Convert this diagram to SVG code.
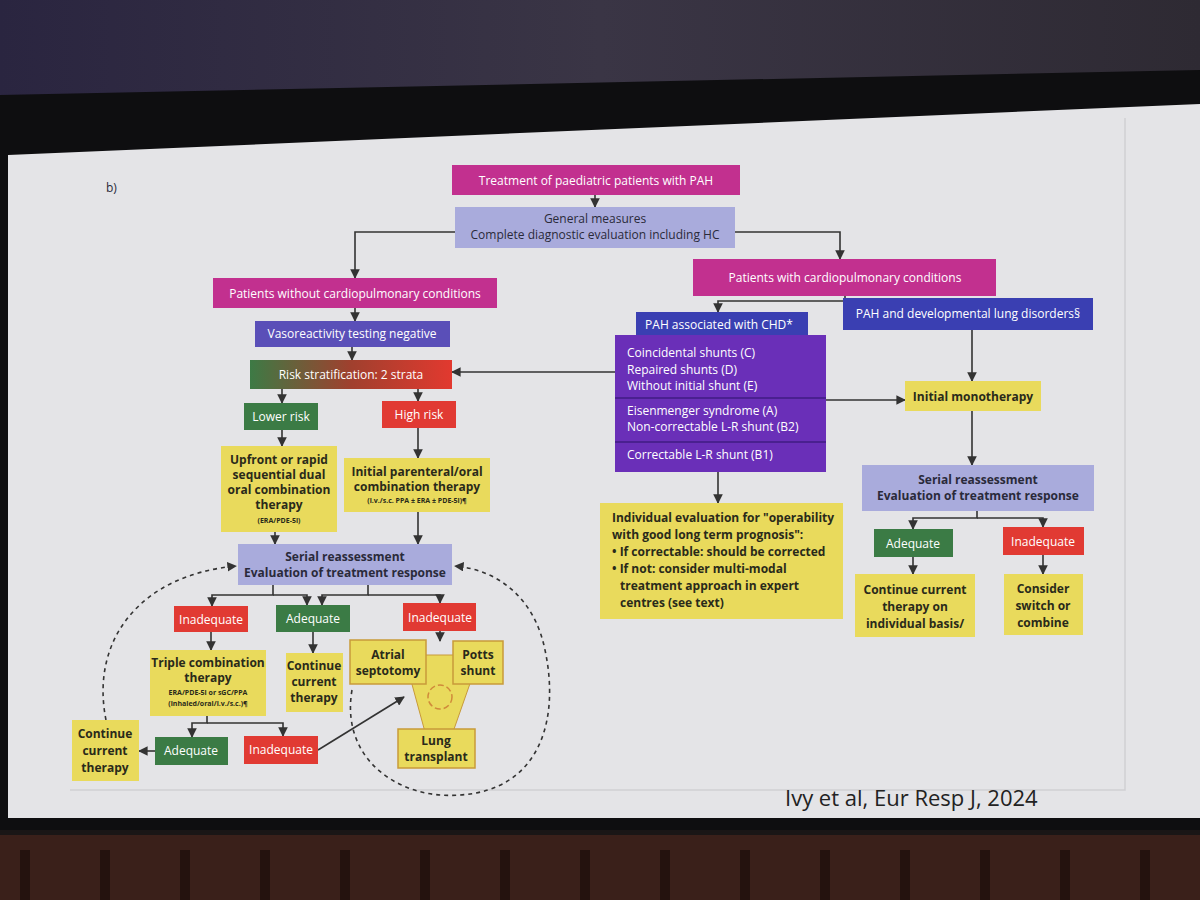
<svg xmlns="http://www.w3.org/2000/svg" width="1200" height="900" viewBox="0 0 1200 900">
<defs>
<linearGradient id="top" x1="0" y1="0" x2="1" y2="0"><stop offset="0" stop-color="#2a2540"/><stop offset="0.5" stop-color="#3a3545"/><stop offset="1" stop-color="#2e2a33"/></linearGradient>
<linearGradient id="risk" x1="0" y1="0" x2="1" y2="0"><stop offset="0" stop-color="#3d7a45"/><stop offset="0.5" stop-color="#a0402e"/><stop offset="1" stop-color="#e2392f"/></linearGradient>
<marker id="ah" viewBox="0 0 10 10" refX="9" refY="5" markerWidth="6" markerHeight="6" orient="auto-start-reverse"><path d="M0,0 L10,5 L0,10 z" fill="#333"/></marker>
</defs>
<style>
.t{font-family:"Open Sans","Liberation Sans",sans-serif;font-size:12px;text-anchor:middle}
.w{fill:#fff}.d{fill:#2a2a3a}.b{font-weight:bold;fill:#2a2a1a}
.mag{fill:#c2308f}.lav{fill:#a9abdc}.grn{fill:#3b7b45}.red{fill:#e13a33}.yel{fill:#e9da5c}.blu{fill:#3a3fb2}.pur{fill:#6a2fb8}
.c path,.c line{stroke:#333;stroke-width:1.6;fill:none}
.dash{stroke:#444;stroke-width:1.6;fill:none;stroke-dasharray:4 4}
</style>
<rect width="1200" height="900" fill="#1a1616"/>
<rect width="1200" height="120" fill="url(#top)"/>
<path d="M0,95 L1200,70 L1200,830 L0,830 z" fill="#0e0e10"/>
<path d="M8,155 L1200,104 L1200,818 L8,818 z" fill="#e4e4e7"/>
<path d="M70,790 L1125,790 L1125,118" fill="none" stroke="#cfcfd3" stroke-width="1.5"/>
<rect x="0" y="835" width="1200" height="65" fill="#3a201a"/>
<g fill="#24120e"><rect x="20" y="850" width="10" height="50"/><rect x="100" y="850" width="10" height="50"/><rect x="180" y="850" width="10" height="50"/><rect x="260" y="850" width="10" height="50"/><rect x="340" y="850" width="10" height="50"/><rect x="420" y="850" width="10" height="50"/><rect x="500" y="850" width="10" height="50"/><rect x="580" y="850" width="10" height="50"/><rect x="660" y="850" width="10" height="50"/><rect x="740" y="850" width="10" height="50"/><rect x="820" y="850" width="10" height="50"/><rect x="900" y="850" width="10" height="50"/><rect x="980" y="850" width="10" height="50"/><rect x="1060" y="850" width="10" height="50"/><rect x="1140" y="850" width="10" height="50"/></g>
<text x="106" y="192" class="t d" style="text-anchor:start">b)</text>
<text x="785" y="806" class="t" style="text-anchor:start;font-size:22px;fill:#222">Ivy et al, Eur Resp J, 2024</text>

<g class="c">
<path d="M595,195 V207" marker-end="url(#ah)"/>
<path d="M455,232 H355 V278" marker-end="url(#ah)"/>
<path d="M735,232 H840 V259" marker-end="url(#ah)"/>
<path d="M845,296 V301 H718 V312" marker-end="url(#ah)"/>
<path d="M845,301 H968 V300" marker-end="url(#ah)"/>
<path d="M355,308 V321" marker-end="url(#ah)"/>
<path d="M352,347 V360" marker-end="url(#ah)"/>
<path d="M282,389 V403" marker-end="url(#ah)"/>
<path d="M418,389 V401" marker-end="url(#ah)"/>
<path d="M615,372 H452" marker-end="url(#ah)"/>
<path d="M826,400 H905" marker-end="url(#ah)"/>
<path d="M972,330 V381" marker-end="url(#ah)"/>
<path d="M972,411 V465" marker-end="url(#ah)"/>
<path d="M977,511 V518 H913 V529" marker-end="url(#ah)"/>
<path d="M977,518 H1043 V527" marker-end="url(#ah)"/>
<path d="M913,557 V574" marker-end="url(#ah)"/>
<path d="M1043,555 V574" marker-end="url(#ah)"/>
<path d="M718,472 V503" marker-end="url(#ah)"/>
<path d="M282,430 V446" marker-end="url(#ah)"/>
<path d="M418,428 V458" marker-end="url(#ah)"/>
<path d="M275,532 V544" marker-end="url(#ah)"/>
<path d="M418,512 V544" marker-end="url(#ah)"/>
<path d="M273,585 V595 H212 V606" marker-end="url(#ah)"/>
<path d="M273,595 H307 V605" marker-end="url(#ah)"/>
<path d="M368,585 V595 H322 V605" marker-end="url(#ah)"/>
<path d="M368,595 H440 V603" marker-end="url(#ah)"/>
<path d="M211,632 V650" marker-end="url(#ah)"/>
<path d="M313,632 V653" marker-end="url(#ah)"/>
<path d="M440,631 V641" marker-end="url(#ah)"/>
<path d="M207,716 V723 H192 V737" marker-end="url(#ah)"/>
<path d="M207,723 H283 V736" marker-end="url(#ah)"/>
<path d="M155,751 H139" marker-end="url(#ah)"/>
<path d="M318,750 L404,697" marker-end="url(#ah)"/>
<path class="dash" d="M106,720 C90,640 140,575 236,566" marker-end="url(#ah)"/>
<path class="dash" d="M352,690 C340,760 400,800 460,795 C540,790 560,720 545,650 C535,600 500,570 455,566" marker-end="url(#ah)"/>
</g>

<g id="title"><rect x="452" y="165" width="288" height="30" class="mag"/><text x="596" y="185" class="t w">Treatment of paediatric patients with PAH</text></g>
<g id="general"><rect x="455" y="207" width="280" height="41" class="lav"/><text x="595" y="223" class="t d">General measures</text><text x="595" y="239" class="t d">Complete diagnostic evaluation including HC</text></g>
<g id="without"><rect x="213" y="278" width="284" height="30" class="mag"/><text x="355" y="298" class="t w">Patients without cardiopulmonary conditions</text></g>
<g id="with"><rect x="693" y="259" width="303" height="37" class="mag"/><text x="845" y="282" class="t w">Patients with cardiopulmonary conditions</text></g>
<g id="vaso"><rect x="255" y="321" width="195" height="26" fill="#5a4fb8"/><text x="352" y="338" class="t w">Vasoreactivity testing negative</text></g>
<g id="risk"><rect x="250" y="360" width="202" height="29" fill="url(#risk)"/><text x="351" y="379" class="t w">Risk stratification: 2 strata</text></g>
<g id="lower"><rect x="244" y="403" width="74" height="27" class="grn"/><text x="281" y="421" class="t w">Lower risk</text></g>
<g id="high"><rect x="382" y="401" width="74" height="27" class="red"/><text x="419" y="419" class="t w">High risk</text></g>
<g id="upfront"><rect x="221" y="446" width="116" height="86" class="yel"/><text class="t b" x="279" y="464">Upfront or rapid</text><text class="t b" x="279" y="479">sequential dual</text><text class="t b" x="279" y="494">oral combination</text><text class="t b" x="279" y="509">therapy</text><text class="t b" x="279" y="523" style="font-size:7px">(ERA/PDE-5i)</text></g>
<g id="parenteral"><rect x="344" y="458" width="146" height="54" class="yel"/><text class="t b" x="417" y="476">Initial parenteral/oral</text><text class="t b" x="417" y="491">combination therapy</text><text class="t b" x="417" y="503" style="font-size:7px">(i.v./s.c. PPA ± ERA ± PDE-5i)¶</text></g>
<g id="serialL"><rect x="238" y="544" width="214" height="41" class="lav"/><text x="345" y="561" class="t d" style="font-weight:bold">Serial reassessment</text><text x="345" y="577" class="t d" style="font-weight:bold">Evaluation of treatment response</text></g>
<g id="inad1"><rect x="174" y="606" width="74" height="26" class="red"/><text x="211" y="624" class="t w">Inadequate</text></g>
<g id="adeq1"><rect x="276" y="605" width="74" height="27" class="grn"/><text x="313" y="623" class="t w">Adequate</text></g>
<g id="inad3"><rect x="403" y="603" width="73" height="28" class="red"/><text x="440" y="622" class="t w">Inadequate</text></g>
<g id="triple"><rect x="150" y="650" width="116" height="66" class="yel"/><text class="t b" x="208" y="667">Triple combination</text><text class="t b" x="208" y="682">therapy</text><text class="t b" x="208" y="695" style="font-size:7px">ERA/PDE-5i or sGC/PPA</text><text class="t b" x="208" y="706" style="font-size:7px">(inhaled/oral/i.v./s.c.)¶</text></g>
<g id="contC"><rect x="286" y="653" width="57" height="59" class="yel"/><text class="t b" x="314" y="670">Continue</text><text class="t b" x="314" y="686">current</text><text class="t b" x="314" y="702">therapy</text></g>
<g id="funnel"><path d="M404,655 H480 L453,732 H425 z" class="yel" stroke="#c89a3a"/><circle cx="440" cy="697" r="12" fill="none" stroke="#d08a3a" stroke-width="1.5" stroke-dasharray="6 3"/></g>
<g id="atrial"><rect x="350" y="640" width="76" height="44" class="yel" stroke="#c89a3a" stroke-width="1.5"/><text class="t b" x="388" y="659">Atrial</text><text class="t b" x="388" y="675">septotomy</text></g>
<g id="potts"><rect x="453" y="641" width="50" height="43" class="yel" stroke="#c89a3a" stroke-width="1.5"/><text class="t b" x="478" y="659">Potts</text><text class="t b" x="478" y="675">shunt</text></g>
<g id="lung"><rect x="398" y="729" width="77" height="39" class="yel" stroke="#c89a3a" stroke-width="1.5"/><text class="t b" x="436" y="745">Lung</text><text class="t b" x="436" y="761">transplant</text></g>
<g id="contL"><rect x="72" y="720" width="67" height="61" class="yel"/><text class="t b" x="105" y="738">Continue</text><text class="t b" x="105" y="755">current</text><text class="t b" x="105" y="772">therapy</text></g>
<g id="adeq2"><rect x="155" y="737" width="73" height="28" class="grn"/><text x="191" y="755" class="t w">Adequate</text></g>
<g id="inad2"><rect x="244" y="736" width="74" height="28" class="red"/><text x="281" y="754" class="t w">Inadequate</text></g>
<g id="chd"><rect x="636" y="312" width="172" height="26" class="blu"/><text x="719" y="329" class="t w">PAH associated with CHD*</text></g>
<g id="shunts"><rect x="615" y="335" width="211" height="137" class="pur"/><line x1="615" y1="398" x2="826" y2="398" stroke="#4a2090" stroke-width="2"/><line x1="615" y1="442" x2="826" y2="442" stroke="#4a2090" stroke-width="2"/>
<g class="t w" style="text-anchor:start"><text x="627" y="357">Coincidental shunts (C)</text><text x="627" y="374">Repaired shunts (D)</text><text x="627" y="390">Without initial shunt (E)</text><text x="627" y="415">Eisenmenger syndrome (A)</text><text x="627" y="431">Non-correctable L-R shunt (B2)</text><text x="627" y="459">Correctable L-R shunt (B1)</text></g></g>
<g id="dev"><rect x="843" y="298" width="250" height="32" class="blu"/><text x="968" y="318" class="t w">PAH and developmental lung disorders§</text></g>
<g id="mono"><rect x="905" y="381" width="136" height="30" class="yel"/><text x="973" y="401" class="t b">Initial monotherapy</text></g>
<g id="serialR"><rect x="862" y="465" width="232" height="46" class="lav"/><text x="978" y="484" class="t d" style="font-weight:bold">Serial reassessment</text><text x="978" y="500" class="t d" style="font-weight:bold">Evaluation of treatment response</text></g>
<g id="adeqR"><rect x="874" y="529" width="79" height="28" class="grn"/><text x="913" y="548" class="t w">Adequate</text></g>
<g id="inadR"><rect x="1003" y="527" width="81" height="28" class="red"/><text x="1043" y="546" class="t w">Inadequate</text></g>
<g id="contR"><rect x="855" y="574" width="120" height="63" class="yel"/><text class="t b" x="915" y="594">Continue current</text><text class="t b" x="915" y="611">therapy on</text><text class="t b" x="915" y="628">individual basis/</text></g>
<g id="consider"><rect x="1004" y="574" width="79" height="61" class="yel"/><text class="t b" x="1043" y="593">Consider</text><text class="t b" x="1043" y="610">switch or</text><text class="t b" x="1043" y="627">combine</text></g>
<g id="indiv"><rect x="600" y="503" width="243" height="116" class="yel"/><g class="t b" style="text-anchor:start"><text x="612" y="522">Individual evaluation for "operability</text><text x="612" y="539">with good long term prognosis":</text><text x="612" y="556">• If correctable: should be corrected</text><text x="612" y="573">• If not: consider multi-modal</text><text x="620" y="590">treatment approach in expert</text><text x="620" y="607">centres (see text)</text></g></g>
</svg>
